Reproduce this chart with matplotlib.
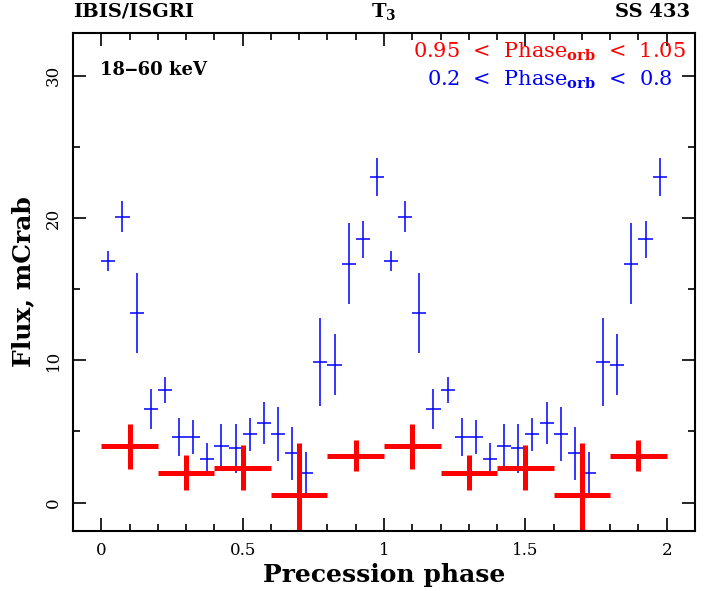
import numpy as np
import matplotlib
matplotlib.use('Agg')
import matplotlib.pyplot as plt
from matplotlib.ticker import MultipleLocator

# blue: 0.2 < Phase_orb < 0.8, 20 precession bins
blue_phase = [0.025, 0.075, 0.125, 0.175, 0.225, 0.275, 0.325, 0.375, 0.425, 0.475,
              0.525, 0.575, 0.625, 0.675, 0.725, 0.775, 0.825, 0.875, 0.925, 0.975]
blue_flux = [17.0, 20.1, 13.3, 6.6, 7.9, 4.6, 4.6, 3.05, 4.0, 3.8,
             4.8, 5.6, 4.8, 3.45, 2.1, 9.9, 9.7, 16.8, 18.5, 22.9]
blue_err = [0.7, 1.1, 2.8, 1.4, 0.9, 1.35, 1.2, 1.1, 1.55, 1.7,
            1.15, 1.5, 1.9, 1.85, 1.45, 3.1, 2.15, 2.85, 1.3, 1.35]

# red: 0.95 < Phase_orb < 1.05, 5 precession bins
red_phase = [0.1, 0.3, 0.5, 0.7, 0.9]
red_flux = [3.95, 2.1, 2.45, 0.55, 3.3]
red_err = [1.6, 1.25, 1.58, 3.65, 1.1]

plt.rcParams['font.family'] = 'DejaVu Serif'
plt.rcParams['mathtext.fontset'] = 'dejavuserif'

fig = plt.figure(figsize=(7.09, 5.91), dpi=100)
ax = fig.add_axes([73/709, 1-531/591, (695-73)/709, (531-33)/591])

# two cycles
bx = np.concatenate([blue_phase, np.array(blue_phase) + 1])
by = np.concatenate([blue_flux, blue_flux])
be = np.concatenate([blue_err, blue_err])
rx = np.concatenate([red_phase, np.array(red_phase) + 1])
ry = np.concatenate([red_flux, red_flux])
re_ = np.concatenate([red_err, red_err])

ax.errorbar(bx, by, yerr=be, xerr=0.025, fmt='none', ecolor='blue', elinewidth=1.1, capsize=0)
ax.errorbar(rx, ry, yerr=re_, xerr=0.1, fmt='none', ecolor='red', elinewidth=3.6, capsize=0)

ax.set_xlim(-0.1, 2.1)
ax.set_ylim(-2, 33)
ax.xaxis.set_major_locator(MultipleLocator(0.5))
ax.xaxis.set_minor_locator(MultipleLocator(0.1))
ax.yaxis.set_major_locator(MultipleLocator(10))
ax.yaxis.set_minor_locator(MultipleLocator(5))
ax.tick_params(which='both', direction='in', top=True, right=True, width=1.2, colors='black')
ax.tick_params(which='major', length=9.5, labelsize=12, pad=8)
ax.tick_params(which='minor', length=5)
ax.set_xticks([0, 0.5, 1, 1.5, 2])
ax.set_xticklabels(['0', '0.5', '1', '1.5', '2'])
for lab in ax.get_yticklabels():
    lab.set_rotation(90)
    lab.set_va('center')
for s in ax.spines.values():
    s.set_linewidth(1.5)

ax.set_xlabel('Precession phase', fontsize=18, fontweight='bold', labelpad=3)
ax.set_ylabel('Flux, mCrab', fontsize=18, fontweight='bold', labelpad=7)

fig.text(73/709, 1-12/591, 'IBIS/ISGRI', fontsize=14, fontweight='bold', ha='left', va='center')
fig.text(384/709, 1-12/591, r'$\mathbf{T_3}$', fontsize=14, ha='center', va='center')
fig.text(690/709, 1-12/591, 'SS 433', fontsize=14, fontweight='bold', ha='right', va='center')

ax.text(0.044, 0.925, '18\u201260 keV', transform=ax.transAxes, fontsize=13, fontweight='bold',
        ha='left', va='center')
ax.text(0.985, 0.963, r'0.95  <  Phase$_{\mathbf{orb}}$  <  1.05', transform=ax.transAxes,
        fontsize=15, color='red', ha='right', va='center')
ax.text(0.964, 0.905, r'0.2  <  Phase$_{\mathbf{orb}}$  <  0.8', transform=ax.transAxes,
        fontsize=15, color='blue', ha='right', va='center')

fig.savefig('out.png', dpi=100)
